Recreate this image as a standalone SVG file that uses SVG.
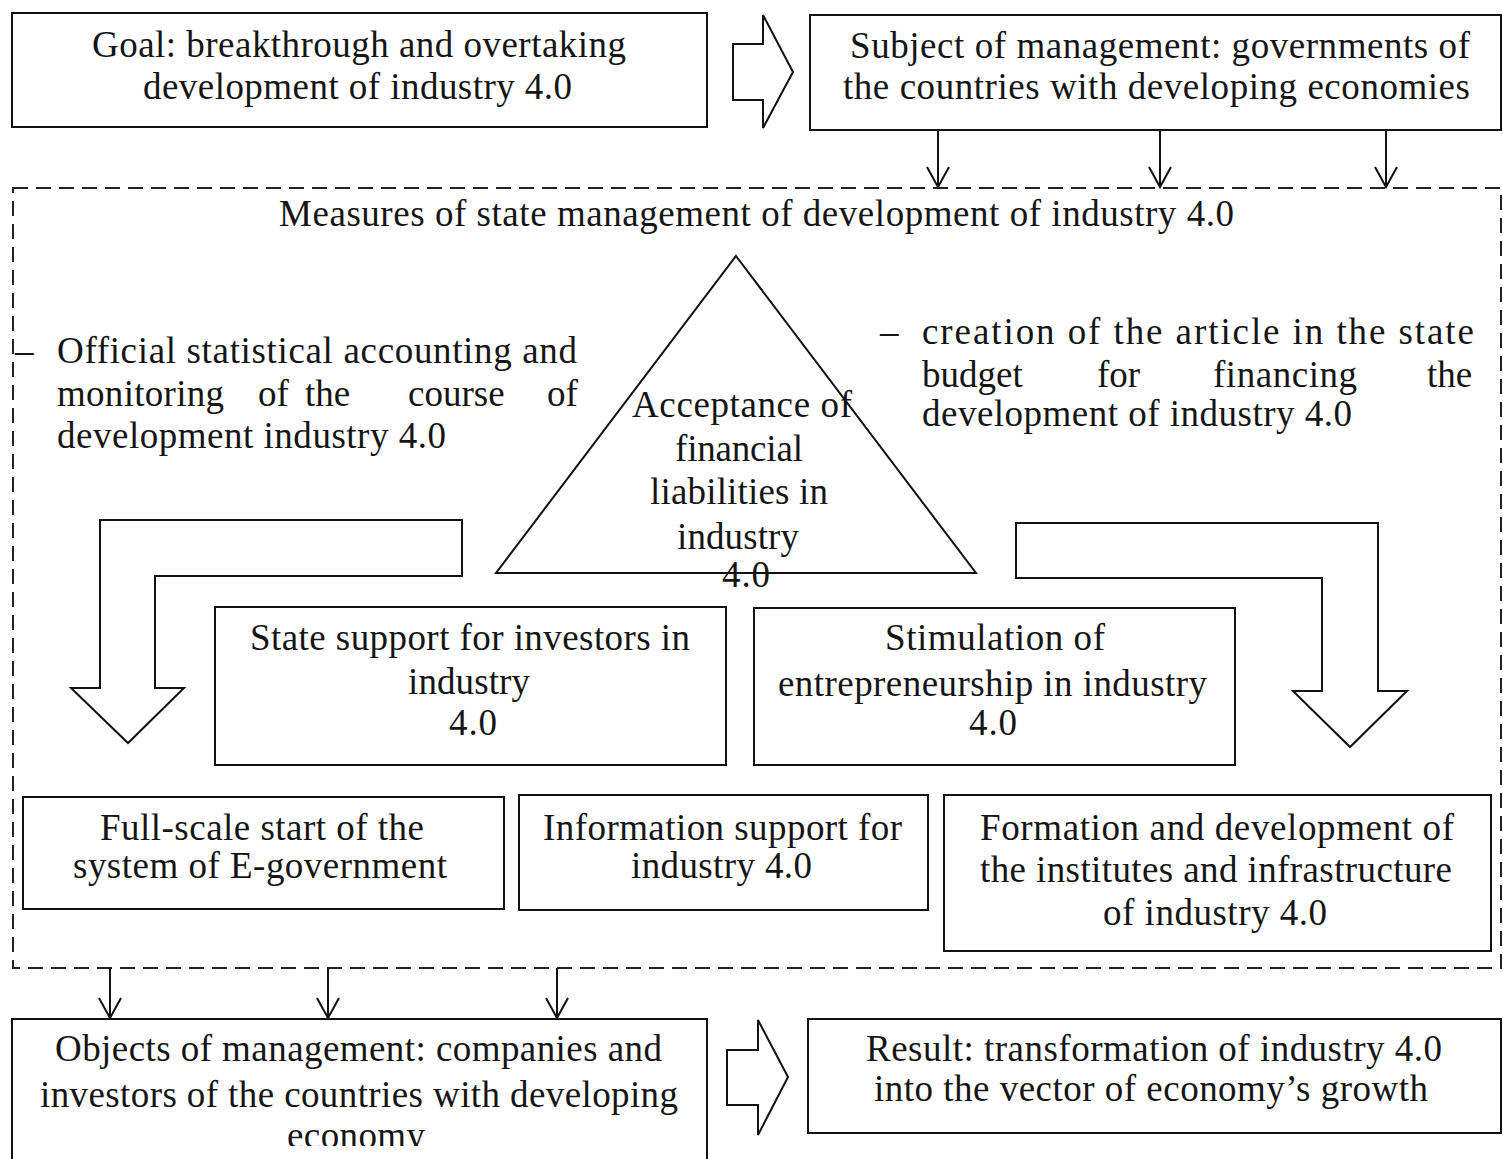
<svg xmlns="http://www.w3.org/2000/svg" width="1503" height="1159" viewBox="0 0 1503 1159">
<style>
.t{font-family:"Liberation Serif","Times New Roman",serif;font-size:37px;fill:#151515}
.box{fill:#fff;stroke:#111;stroke-width:2}
.ln{fill:none;stroke:#111;stroke-width:2}
.blk{fill:#fff;stroke:#111;stroke-width:2;stroke-linejoin:miter}
.dash{fill:none;stroke:#222;stroke-width:2;stroke-dasharray:15 8}
</style>
<defs>
<marker id="v" viewBox="-22 -13 24 26" markerWidth="24" markerHeight="26" refX="0" refY="0" orient="auto" markerUnits="userSpaceOnUse">
<path d="M-20,-11 L0,0 L-20,11" fill="none" stroke="#111" stroke-width="2"/>
</marker>
<clipPath id="clipObj"><rect x="0" y="1000" width="720" height="146"/></clipPath>
</defs>
<rect width="1503" height="1159" fill="#fff"/>

<g id="measures">
<rect class="dash" x="13" y="188" width="1488" height="780"/>
<text class="t" x="279" y="226" textLength="955">Measures of state management of development of industry 4.0</text>
</g>

<g id="goal">
<rect class="box" x="12" y="13" width="695" height="114"/>
<text class="t" x="92" y="57" textLength="534">Goal: breakthrough and overtaking</text>
<text class="t" x="143" y="99" textLength="429">development of industry 4.0</text>
</g>

<g id="subject">
<rect class="box" x="810" y="15" width="691" height="115"/>
<text class="t" x="850" y="58" textLength="620">Subject of management: governments of</text>
<text class="t" x="843" y="99" textLength="627">the countries with developing economies</text>
</g>

<g id="statistics">
<text class="t" x="15" y="363">–</text>
<text class="t" x="57" y="363" textLength="520">Official statistical accounting and</text>
<text class="t" x="57" y="406" textLength="167">monitoring</text>
<text class="t" x="258" y="406">of</text>
<text class="t" x="305" y="406">the</text>
<text class="t" x="408" y="406">course</text>
<text class="t" x="547" y="406">of</text>
<text class="t" x="57" y="448" textLength="389">development industry 4.0</text>
</g>

<g id="budget">
<text class="t" x="880" y="344">–</text>
<text class="t" x="922" y="344" textLength="552">creation of the article in the state</text>
<text class="t" x="922" y="387">budget</text>
<text class="t" x="1097" y="387">for</text>
<text class="t" x="1213" y="387" textLength="144">financing</text>
<text class="t" x="1427" y="387">the</text>
<text class="t" x="922" y="426" textLength="430">development of industry 4.0</text>
</g>

<g id="acceptance">
<polygon class="ln" points="736,256 976,573 496,573"/>
<text class="t" x="632" y="417" textLength="220">Acceptance of</text>
<text class="t" x="675" y="461" textLength="128">financial</text>
<text class="t" x="650" y="504" textLength="178">liabilities in</text>
<text class="t" x="677" y="549" textLength="122">industry</text>
<text class="t" x="722" y="587" textLength="48">4.0</text>
</g>

<g id="connectors">
<polygon class="blk" points="733,44 763,44 763,15 793,72 763,128 763,100 733,100"/>
<polygon class="blk" points="727,1050 758,1050 758,1020 788,1077 758,1135 758,1105 727,1105"/>
<polygon class="blk" points="100,520 462,520 462,576 155,576 155,688 184,688 128,743 71,688 100,688"/>
<polygon class="blk" points="1016,523 1378,523 1378,691 1407,691 1350,747 1293,691 1322,691 1322,578 1016,578"/>
<line class="ln" x1="938" y1="130" x2="938" y2="187" marker-end="url(#v)"/>
<line class="ln" x1="1160" y1="130" x2="1160" y2="187" marker-end="url(#v)"/>
<line class="ln" x1="1386" y1="130" x2="1386" y2="187" marker-end="url(#v)"/>
<line class="ln" x1="110" y1="968" x2="110" y2="1018" marker-end="url(#v)"/>
<line class="ln" x1="328" y1="968" x2="328" y2="1018" marker-end="url(#v)"/>
<line class="ln" x1="557" y1="968" x2="557" y2="1018" marker-end="url(#v)"/>
</g>

<g id="state-support">
<rect class="box" x="215" y="607" width="511" height="158"/>
<text class="t" x="250" y="650" textLength="440">State support for investors in</text>
<text class="t" x="408" y="694" textLength="122">industry</text>
<text class="t" x="449" y="735" textLength="48">4.0</text>
</g>

<g id="stimulation">
<rect class="box" x="754" y="608" width="481" height="157"/>
<text class="t" x="885" y="650" textLength="220">Stimulation of</text>
<text class="t" x="778" y="696" textLength="429">entrepreneurship in industry</text>
<text class="t" x="969" y="735" textLength="48">4.0</text>
</g>

<g id="e-government">
<rect class="box" x="23" y="797" width="481" height="112"/>
<text class="t" x="100" y="840" textLength="324">Full-scale start of the</text>
<text class="t" x="73" y="878" textLength="374">system of E-government</text>
</g>

<g id="information">
<rect class="box" x="519" y="795" width="409" height="115"/>
<text class="t" x="543" y="840" textLength="359">Information support for</text>
<text class="t" x="631" y="878" textLength="181">industry 4.0</text>
</g>

<g id="formation">
<rect class="box" x="944" y="795" width="547" height="156"/>
<text class="t" x="980" y="840" textLength="474">Formation and development of</text>
<text class="t" x="980" y="882" textLength="472">the institutes and infrastructure</text>
<text class="t" x="1103" y="925" textLength="224">of industry 4.0</text>
</g>

<g id="objects">
<rect class="box" x="12" y="1019" width="695" height="160"/>
<text class="t" x="55" y="1061" textLength="607">Objects of management: companies and</text>
<text class="t" x="40" y="1107" textLength="638">investors of the countries with developing</text>
<text class="t" x="287" y="1148" textLength="138" clip-path="url(#clipObj)">economy</text>
</g>

<g id="result">
<rect class="box" x="808" y="1019" width="693" height="114"/>
<text class="t" x="866" y="1061" textLength="576">Result: transformation of industry 4.0</text>
<text class="t" x="874" y="1101" textLength="554">into the vector of economy’s growth</text>
</g>
</svg>
